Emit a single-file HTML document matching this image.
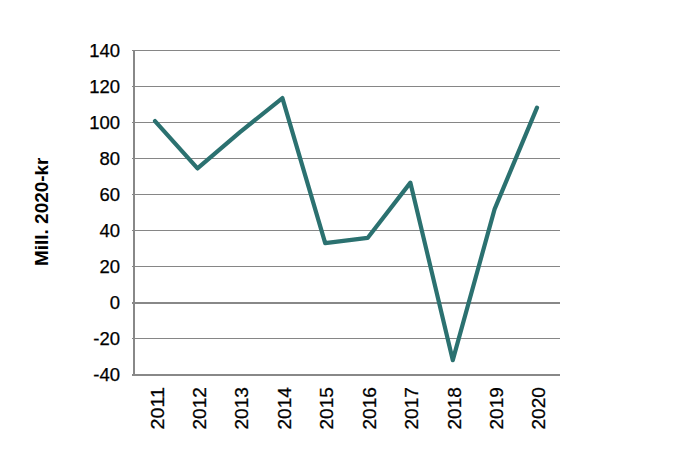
<!DOCTYPE html>
<html><head><meta charset="utf-8"><style>
html,body{margin:0;padding:0;background:#fff;width:685px;height:459px;overflow:hidden}
svg{display:block}
text{font-family:"Liberation Sans",sans-serif;font-size:18.5px;fill:#000;stroke:#000;stroke-width:0.25px}
</style></head><body>
<svg width="685" height="459" viewBox="0 0 685 459">
<rect x="132" y="50" width="428" height="1" fill="#868686"/>
<rect x="132" y="86" width="428" height="1" fill="#868686"/>
<rect x="132" y="122" width="428" height="1" fill="#868686"/>
<rect x="132" y="158" width="428" height="1" fill="#868686"/>
<rect x="132" y="194" width="428" height="1" fill="#868686"/>
<rect x="132" y="230" width="428" height="1" fill="#868686"/>
<rect x="132" y="266" width="428" height="1" fill="#868686"/>
<rect x="132" y="302" width="428" height="2" fill="#888888"/>
<rect x="132" y="338" width="428" height="1" fill="#868686"/>
<rect x="132" y="374" width="428" height="2" fill="#888888"/>

<rect x="133" y="50" width="2" height="326" fill="#888888"/>
<polyline points="155.00,121.10 197.50,168.44 240.00,132.08 282.40,98.06 325.20,243.14 367.60,237.92 410.40,182.66 452.80,360.14 494.60,209.12 537.00,107.60" fill="none" stroke="#2B7170" stroke-width="4.2" stroke-linejoin="round" stroke-linecap="round"/>
<text x="120" y="57.3" text-anchor="end">140</text>
<text x="120" y="93.3" text-anchor="end">120</text>
<text x="120" y="129.3" text-anchor="end">100</text>
<text x="120" y="165.3" text-anchor="end">80</text>
<text x="120" y="201.3" text-anchor="end">60</text>
<text x="120" y="237.3" text-anchor="end">40</text>
<text x="120" y="273.3" text-anchor="end">20</text>
<text x="120" y="309.3" text-anchor="end">0</text>
<text x="120" y="345.3" text-anchor="end">-20</text>
<text x="120" y="381.3" text-anchor="end">-40</text>

<text transform="translate(164.00,429.5) rotate(-90)" textLength="42.4" lengthAdjust="spacingAndGlyphs">2011</text>
<text transform="translate(205.90,429.5) rotate(-90)" textLength="42.4" lengthAdjust="spacingAndGlyphs">2012</text>
<text transform="translate(248.40,429.5) rotate(-90)" textLength="42.4" lengthAdjust="spacingAndGlyphs">2013</text>
<text transform="translate(290.50,429.5) rotate(-90)" textLength="42.4" lengthAdjust="spacingAndGlyphs">2014</text>
<text transform="translate(333.40,429.5) rotate(-90)" textLength="42.4" lengthAdjust="spacingAndGlyphs">2015</text>
<text transform="translate(375.50,429.5) rotate(-90)" textLength="42.4" lengthAdjust="spacingAndGlyphs">2016</text>
<text transform="translate(418.40,429.5) rotate(-90)" textLength="42.4" lengthAdjust="spacingAndGlyphs">2017</text>
<text transform="translate(460.50,429.5) rotate(-90)" textLength="42.4" lengthAdjust="spacingAndGlyphs">2018</text>
<text transform="translate(503.10,429.5) rotate(-90)" textLength="42.4" lengthAdjust="spacingAndGlyphs">2019</text>
<text transform="translate(545.00,429.5) rotate(-90)" textLength="42.4" lengthAdjust="spacingAndGlyphs">2020</text>

<text transform="translate(47.9,266) rotate(-90)" textLength="108.5" lengthAdjust="spacingAndGlyphs" style="font-weight:bold;font-size:17.5px;stroke:none">Mill. 2020-kr</text>
</svg>
</body></html>
